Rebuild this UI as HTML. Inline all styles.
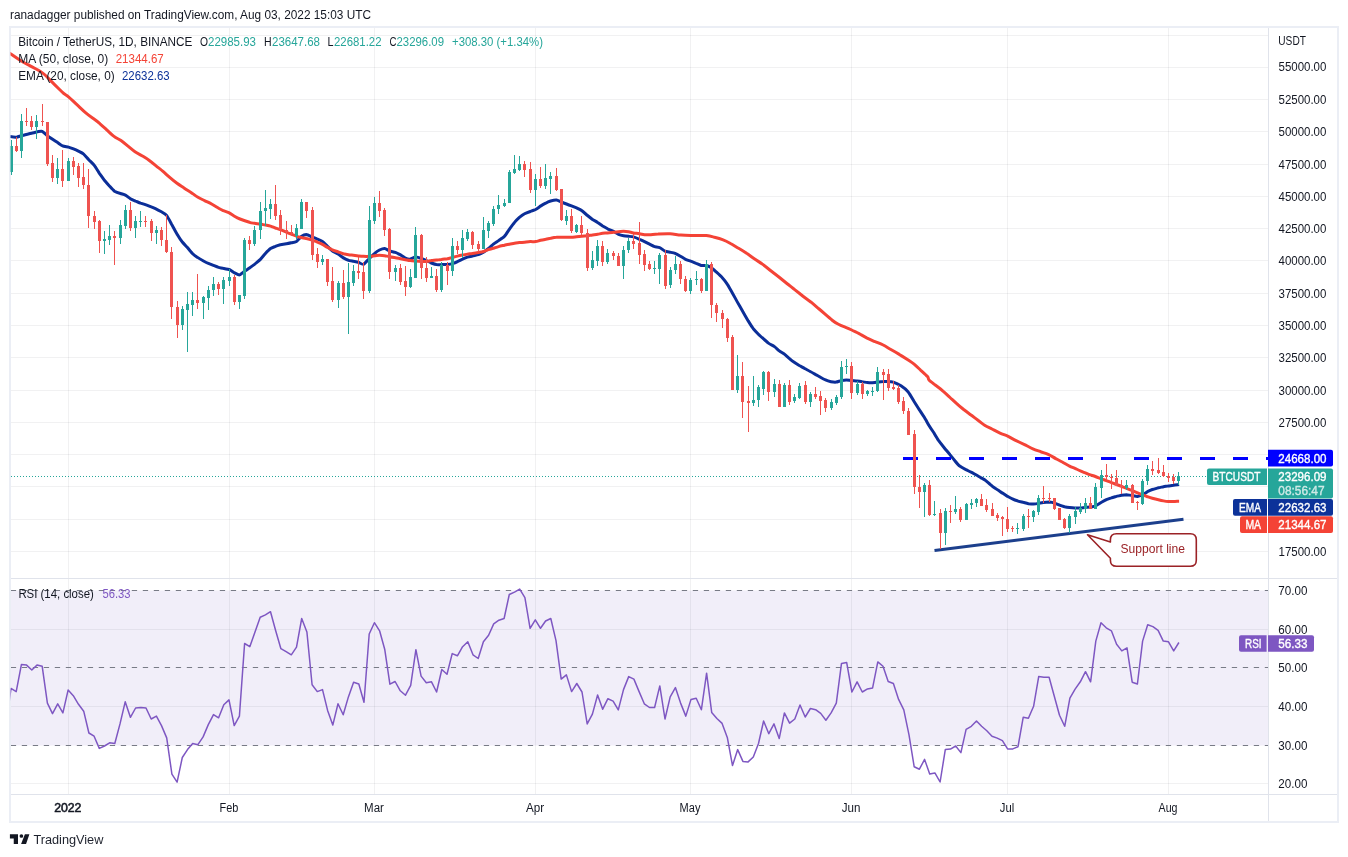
<!DOCTYPE html><html><head><meta charset="utf-8"><title>BTCUSDT chart</title><style>html,body{margin:0;padding:0;background:#fff;}svg{display:block;font-family:"Liberation Sans",sans-serif;will-change:transform;}</style></head><body>
<svg width="1348" height="857" viewBox="0 0 1348 857">
<rect width="1348" height="857" fill="#fff"/>
<defs><clipPath id="cp"><rect x="10.5" y="27.5" width="1257.5" height="551"/></clipPath><clipPath id="cr"><rect x="10.5" y="578.5" width="1257.5" height="216"/></clipPath></defs>
<rect x="11" y="590.5" width="1257" height="155.0" fill="#f1eef9"/>
<path d="M68.5 27.5V794.5M229.5 27.5V794.5M374.5 27.5V794.5M535.5 27.5V794.5M690.5 27.5V794.5M851.5 27.5V794.5M1007.5 27.5V794.5M1168.5 27.5V794.5M10.5 35.5H1268M10.5 67.5H1268M10.5 99.5H1268M10.5 131.5H1268M10.5 164.5H1268M10.5 196.5H1268M10.5 228.5H1268M10.5 260.5H1268M10.5 293.5H1268M10.5 325.5H1268M10.5 357.5H1268M10.5 390.5H1268M10.5 422.5H1268M10.5 454.5H1268M10.5 486.5H1268M10.5 519.5H1268M10.5 551.5H1268M10.5 629.5H1268M10.5 706.5H1268M10.5 783.5H1268" stroke="rgba(42,46,57,0.065)" stroke-width="1" fill="none"/>
<path d="M10.8 590.5H1268" stroke="#787b86" stroke-width="1" stroke-dasharray="5.3 5.7" fill="none"/>
<path d="M10.8 667.5H1268" stroke="#787b86" stroke-width="1" stroke-dasharray="5.3 5.7" fill="none"/>
<path d="M10.8 745.5H1268" stroke="#787b86" stroke-width="1" stroke-dasharray="5.3 5.7" fill="none"/>
<path d="M10 27H1338V822H10Z" stroke="#ebeef5" stroke-width="2" fill="none"/>
<path d="M11 578.5H1337M11 794.5H1337M1268.5 28V821" stroke="#e0e3eb" stroke-width="1" fill="none"/>
<path d="M11 476.5H1268" stroke="#26a69a" stroke-width="1" stroke-dasharray="1 2" fill="none"/>
<g clip-path="url(#cp)">
<path d="M10.0 136.6C10.6 136.7 15.4 137.3 16.5 137.2C17.7 137.1 20.2 136.0 21.7 135.6C23.2 135.2 29.6 133.7 31.6 133.2C33.6 132.8 40.1 131.0 41.7 131.3C43.3 131.5 46.1 134.9 47.7 136.0C49.3 137.2 56.1 141.6 57.6 142.6C59.1 143.6 61.5 145.5 62.6 145.9C63.6 146.4 67.4 146.8 68.5 147.1C69.6 147.4 72.5 148.5 73.5 148.9C74.5 149.3 77.4 150.6 78.4 151.1C79.4 151.6 82.4 153.0 83.4 153.9C84.4 154.7 87.4 158.3 88.5 159.4C89.6 160.6 93.2 164.0 94.3 165.4C95.4 166.8 98.4 171.8 99.4 173.3C100.5 174.8 103.4 179.0 104.4 180.3C105.4 181.5 108.6 185.1 109.6 186.2C110.6 187.3 113.4 190.4 114.5 191.2C115.6 191.9 119.4 193.2 120.5 193.5C121.6 193.9 124.4 194.6 125.4 195.1C126.4 195.6 129.4 198.1 130.4 198.7C131.4 199.3 134.5 200.6 135.5 201.1C136.6 201.5 138.9 202.5 140.5 203.1C142.1 203.6 149.2 206.0 151.3 206.9C153.4 207.7 159.9 211.0 161.4 211.8C163.0 212.7 165.6 214.2 166.6 215.4C167.6 216.6 170.3 221.8 171.3 223.7C172.4 225.6 176.2 232.8 177.3 234.6C178.4 236.5 181.2 240.7 182.3 242.0C183.3 243.3 186.4 246.4 187.4 247.5C188.4 248.7 191.4 252.5 192.4 253.5C193.4 254.5 196.4 256.7 197.5 257.4C198.6 258.2 202.4 260.4 203.5 261.0C204.6 261.6 207.4 263.0 208.4 263.4C209.4 263.8 212.4 265.0 213.4 265.4C214.4 265.8 217.5 267.1 218.6 267.4C219.6 267.7 222.4 268.1 223.5 268.4C224.6 268.6 228.6 269.3 229.7 269.7C230.8 270.2 233.6 272.4 234.6 272.9C235.6 273.4 238.6 275.1 239.6 274.9C240.6 274.7 243.5 272.0 244.5 271.3C245.5 270.6 248.5 268.7 249.5 268.0C250.5 267.3 253.4 265.2 254.5 264.4C255.5 263.5 259.3 260.5 260.4 259.4C261.5 258.3 264.4 254.6 265.4 253.5C266.4 252.4 269.5 249.2 270.5 248.5C271.5 247.8 274.4 246.8 275.4 246.4C276.3 246.0 279.2 245.1 280.3 244.8C281.4 244.6 285.2 244.0 286.3 243.8C287.4 243.6 290.2 243.1 291.2 242.8C292.2 242.6 295.4 242.1 296.4 241.5C297.4 240.8 300.4 237.2 301.3 236.5C302.3 235.8 305.2 234.5 306.3 234.5C307.4 234.6 311.2 236.6 312.3 237.1C313.3 237.5 316.2 238.6 317.2 239.1C318.2 239.5 321.3 240.7 322.4 241.5C323.4 242.2 326.5 245.5 327.5 246.4C328.5 247.4 331.4 250.2 332.5 251.0C333.6 251.8 337.3 253.7 338.4 254.3C339.5 255.0 342.4 257.3 343.4 257.9C344.4 258.5 347.4 260.0 348.4 260.3C349.3 260.6 352.3 261.1 353.3 261.3C354.3 261.5 357.3 262.0 358.3 262.3C359.3 262.6 362.3 264.7 363.4 264.3C364.6 263.9 368.4 259.4 369.6 258.3C370.7 257.2 373.7 254.2 374.7 253.4C375.7 252.5 378.5 250.5 379.5 250.0C380.5 249.5 383.6 248.3 384.7 248.4C385.7 248.5 388.5 250.6 389.6 251.0C390.7 251.4 394.3 252.0 395.4 252.4C396.5 252.8 399.5 254.4 400.5 254.9C401.5 255.5 404.4 257.7 405.4 258.1C406.3 258.5 409.3 259.2 410.3 259.1C411.3 259.0 414.4 257.1 415.5 257.1C416.6 257.0 420.3 258.1 421.4 258.5C422.5 258.8 425.4 260.2 426.4 260.6C427.4 261.1 430.3 262.6 431.3 263.0C432.4 263.4 435.5 264.5 436.5 264.6C437.5 264.8 440.4 264.6 441.5 264.6C442.5 264.6 446.3 264.5 447.4 264.4C448.5 264.3 451.4 263.9 452.4 263.6C453.4 263.3 456.5 262.1 457.5 261.6C458.5 261.2 461.5 259.5 462.5 259.1C463.5 258.6 466.5 257.4 467.4 257.1C468.4 256.8 471.3 256.3 472.4 256.1C473.5 255.8 477.2 255.1 478.4 254.7C479.5 254.3 482.5 252.7 483.5 252.1C484.5 251.5 487.5 249.3 488.5 248.5C489.5 247.8 492.4 245.0 493.4 244.2C494.4 243.4 497.5 241.4 498.6 240.6C499.7 239.8 503.5 237.4 504.5 236.2C505.6 235.1 508.3 230.7 509.3 229.3C510.3 227.9 513.4 223.6 514.5 222.4C515.5 221.2 518.4 218.3 519.4 217.4C520.4 216.6 523.5 214.4 524.6 213.8C525.7 213.2 529.2 211.9 530.3 211.5C531.4 211.0 534.5 210.0 535.6 209.5C536.6 209.0 539.5 206.8 540.5 206.1C541.5 205.5 544.7 203.7 545.7 203.2C546.7 202.6 549.6 201.3 550.6 201.0C551.7 200.7 555.3 199.9 556.4 200.0C557.5 200.1 560.3 201.6 561.3 202.0C562.4 202.4 565.5 203.6 566.5 204.0C567.5 204.4 570.4 205.5 571.5 205.9C572.5 206.3 575.6 207.5 576.6 207.9C577.6 208.4 580.5 209.7 581.6 210.5C582.7 211.3 586.4 214.6 587.5 215.5C588.6 216.4 591.5 218.7 592.5 219.4C593.5 220.1 596.6 221.7 597.6 222.4C598.7 223.1 601.6 225.3 602.6 226.0C603.6 226.6 606.5 228.2 607.6 228.8C608.7 229.3 612.4 230.8 613.5 231.3C614.6 231.9 617.5 233.9 618.5 234.3C619.5 234.7 622.6 235.5 623.6 235.7C624.6 235.9 627.6 236.2 628.6 236.3C629.6 236.4 632.5 236.6 633.5 236.9C634.6 237.2 638.4 238.8 639.5 239.3C640.6 239.7 643.4 241.1 644.5 241.6C645.5 242.1 648.6 243.7 649.6 244.2C650.6 244.7 653.6 246.3 654.6 246.6C655.6 246.9 658.7 247.1 659.7 247.6C660.8 248.0 663.9 250.6 664.9 251.1C665.9 251.6 669.0 252.0 670.0 252.2C671.0 252.4 674.0 252.9 675.1 253.3C676.1 253.7 679.4 255.6 680.4 256.2C681.4 256.8 684.5 258.8 685.5 259.3C686.5 259.8 689.5 260.7 690.6 261.1C691.7 261.5 695.1 262.9 696.1 263.3C697.2 263.7 700.2 265.3 701.2 265.5C702.3 265.7 705.3 265.3 706.3 265.5C707.4 265.7 710.4 267.1 711.4 267.7C712.5 268.4 715.4 271.2 716.5 272.2C717.6 273.2 721.2 276.5 722.3 277.7C723.4 278.9 726.4 282.8 727.4 284.4C728.4 285.9 731.5 291.5 732.5 293.2C733.5 295.0 736.4 300.3 737.4 302.1C738.4 303.9 741.4 309.1 742.5 311.0C743.6 312.9 747.2 319.2 748.2 320.9C749.3 322.7 752.3 327.4 753.3 328.7C754.4 330.0 757.4 333.2 758.4 334.2C759.4 335.2 762.3 337.8 763.3 338.7C764.3 339.6 767.3 342.3 768.4 343.1C769.5 343.9 773.1 345.7 774.2 346.4C775.3 347.2 778.3 350.1 779.3 350.9C780.3 351.7 783.4 353.4 784.4 354.2C785.4 355.0 788.5 357.8 789.5 358.6C790.5 359.5 793.6 361.9 794.6 362.6C795.6 363.3 798.3 364.9 799.3 365.5C800.4 366.1 804.0 368.2 805.1 368.8C806.2 369.4 809.2 370.9 810.2 371.5C811.2 372.0 814.3 373.8 815.3 374.4C816.3 374.9 819.4 376.7 820.4 377.2C821.4 377.8 824.4 379.5 825.5 379.9C826.5 380.4 830.0 381.5 831.0 381.7C832.1 381.9 835.1 382.2 836.1 382.1C837.1 382.0 840.2 380.8 841.2 380.6C842.2 380.4 845.3 379.9 846.3 379.9C847.3 379.9 850.3 380.5 851.4 380.6C852.5 380.7 855.9 380.9 857.0 381.0C858.0 381.1 861.0 381.5 862.1 381.7C863.1 381.8 866.1 382.5 867.2 382.6C868.2 382.7 871.2 382.8 872.3 382.8C873.3 382.7 876.3 382.3 877.4 382.1C878.4 382.0 882.0 381.5 883.1 381.5C884.2 381.4 887.2 381.4 888.2 381.5C889.2 381.5 892.0 381.7 893.3 382.1C894.6 382.6 899.5 384.9 901.0 385.8C902.5 386.8 906.7 390.2 908.0 391.7C909.3 393.2 912.7 399.1 913.8 401.0C915.0 402.9 918.6 408.7 919.7 410.3C920.7 412.0 923.4 415.8 924.3 417.3C925.3 418.9 928.1 424.0 929.0 425.5C929.9 427.0 932.7 431.1 933.7 432.5C934.6 434.0 937.3 438.6 938.3 440.1C939.4 441.6 943.0 446.2 944.2 447.7C945.3 449.1 949.0 453.4 950.0 454.7C951.1 456.0 953.7 459.4 954.7 460.5C955.6 461.6 958.2 464.8 959.3 465.8C960.5 466.7 964.9 469.1 966.3 469.8C967.7 470.6 971.9 472.6 973.3 473.3C974.7 474.1 979.2 476.8 980.4 477.4C981.5 478.1 983.8 479.1 985.0 480.0C986.2 480.9 991.1 485.4 992.4 486.3C993.6 487.3 996.5 489.0 997.5 489.7C998.5 490.3 1001.5 492.5 1002.5 493.1C1003.5 493.8 1006.4 495.8 1007.4 496.3C1008.4 496.9 1011.4 498.5 1012.4 498.9C1013.4 499.4 1016.3 500.5 1017.4 500.8C1018.5 501.2 1022.4 502.1 1023.5 502.4C1024.6 502.7 1027.5 503.5 1028.5 503.7C1029.5 503.8 1032.6 504.1 1033.6 504.0C1034.6 504.0 1037.5 503.6 1038.5 503.4C1039.5 503.2 1042.4 502.6 1043.5 502.5C1044.6 502.4 1048.3 502.1 1049.4 502.1C1050.5 502.2 1053.5 502.8 1054.5 503.1C1055.5 503.4 1058.5 504.7 1059.5 505.1C1060.5 505.5 1063.5 506.5 1064.5 506.8C1065.5 507.0 1068.4 507.4 1069.5 507.5C1070.6 507.6 1074.3 507.8 1075.4 507.9C1076.5 507.9 1079.4 507.9 1080.4 507.9C1081.4 507.8 1084.4 507.6 1085.4 507.5C1086.4 507.5 1089.4 507.2 1090.4 507.1C1091.4 506.9 1094.3 506.5 1095.4 506.0C1096.5 505.5 1100.4 502.9 1101.5 502.3C1102.6 501.7 1105.4 500.2 1106.4 499.7C1107.4 499.3 1110.4 498.2 1111.4 497.9C1112.4 497.5 1115.4 496.7 1116.4 496.4C1117.4 496.2 1120.4 495.5 1121.4 495.3C1122.5 495.1 1125.5 494.7 1126.6 494.7C1127.7 494.8 1131.2 495.5 1132.4 495.6C1133.5 495.8 1136.6 496.5 1137.6 496.4C1138.6 496.3 1141.5 495.3 1142.5 494.9C1143.5 494.4 1146.4 492.3 1147.4 491.7C1148.4 491.2 1151.2 489.9 1152.3 489.5C1153.4 489.1 1157.3 488.1 1158.4 487.8C1159.5 487.6 1162.5 486.9 1163.5 486.7C1164.5 486.5 1167.3 486.1 1168.3 485.9C1169.3 485.8 1172.4 485.4 1173.5 485.3C1174.6 485.1 1178.5 484.6 1179.1 484.5" stroke="#0b2e98" stroke-width="3" fill="none" stroke-linejoin="round" stroke-linecap="butt"/>
<path d="M3.0 49.0C4.2 49.8 7.7 52.0 10.4 53.7C13.1 55.5 16.1 57.7 19.3 59.7C22.5 61.7 26.2 63.7 29.7 65.6C33.1 67.5 37.6 69.8 40.1 71.2C42.5 72.7 42.5 72.7 44.5 74.5C46.5 76.3 49.5 79.5 51.9 81.9C54.4 84.4 57.4 87.4 59.3 89.3C61.3 91.3 62.3 92.3 63.8 93.5C65.3 94.7 66.3 94.9 68.5 96.8C70.8 98.7 74.2 102.2 77.2 104.9C80.1 107.6 83.1 110.6 86.1 113.1C89.0 115.6 92.6 118.0 95.0 119.8C97.3 121.5 98.0 122.1 100.0 123.8C102.0 125.5 104.7 128.0 107.0 130.1C109.3 132.2 111.7 134.7 114.0 136.4C116.3 138.2 118.7 139.0 121.0 140.6C123.3 142.2 125.7 144.3 128.0 146.2C130.3 148.1 132.7 150.2 135.0 151.8C137.3 153.4 139.7 154.3 142.0 155.7C144.3 157.1 146.7 158.5 149.0 160.2C151.3 161.9 153.7 163.9 156.0 165.8C158.3 167.7 160.7 169.4 163.0 171.4C165.3 173.4 167.7 175.7 170.0 177.7C172.3 179.7 174.7 181.6 177.0 183.3C179.3 185.0 181.7 186.4 184.0 187.9C186.3 189.5 188.7 190.9 191.0 192.4C193.3 194.0 195.7 195.9 198.0 197.3C200.3 198.7 202.7 199.6 205.0 200.8C207.4 202.0 209.7 203.0 212.0 204.3C214.4 205.6 217.2 207.5 219.0 208.5C220.9 209.6 221.6 209.9 223.2 210.6C224.9 211.3 227.0 211.8 228.8 212.7C230.7 213.7 232.6 215.2 234.4 216.2C236.3 217.3 237.5 218.0 240.0 219.0C242.5 220.0 247.1 221.6 249.5 222.3C251.9 223.1 252.6 223.0 254.5 223.3C256.3 223.6 258.6 223.8 260.4 224.1C262.2 224.4 263.7 224.8 265.4 225.1C267.1 225.4 268.9 225.6 270.5 226.1C272.2 226.6 273.7 227.4 275.4 228.0C277.0 228.5 278.5 228.9 280.3 229.6C282.1 230.2 284.4 231.4 286.3 232.1C288.1 232.9 289.5 233.5 291.2 234.1C292.9 234.8 294.7 235.5 296.4 236.1C298.1 236.7 299.7 237.1 301.3 237.5C303.0 237.9 304.5 238.0 306.3 238.5C308.1 238.9 310.4 239.5 312.3 240.1C314.1 240.7 315.5 241.3 317.2 242.0C318.9 242.8 320.6 243.5 322.4 244.4C324.1 245.3 325.8 246.5 327.5 247.4C329.2 248.3 330.7 249.2 332.5 250.0C334.3 250.7 336.6 251.3 338.4 252.0C340.3 252.6 341.7 253.3 343.4 253.8C345.0 254.2 346.7 254.5 348.4 254.7C350.0 255.0 351.7 255.1 353.3 255.3C355.0 255.5 356.6 255.8 358.3 255.9C360.0 256.1 361.5 256.3 363.4 256.3C365.3 256.4 367.7 256.4 369.6 256.3C371.5 256.2 373.1 255.9 374.7 255.7C376.4 255.6 377.8 255.3 379.5 255.3C381.2 255.3 383.0 255.5 384.7 255.7C386.3 256.0 387.8 256.4 389.6 256.7C391.4 257.1 393.5 257.4 395.4 257.7C397.2 258.0 398.9 258.4 400.5 258.7C402.2 259.0 403.7 259.3 405.4 259.7C407.0 260.0 408.6 260.4 410.3 260.6C412.0 260.9 413.6 260.9 415.5 261.0C417.3 261.2 419.6 261.4 421.4 261.4C423.2 261.5 424.7 261.6 426.4 261.4C428.0 261.3 429.7 260.9 431.3 260.6C433.0 260.4 434.8 260.3 436.5 260.1C438.2 259.9 439.6 259.7 441.5 259.5C443.3 259.2 445.6 259.0 447.4 258.7C449.2 258.3 450.7 257.9 452.4 257.5C454.1 257.0 455.8 256.5 457.5 256.1C459.2 255.7 460.8 255.4 462.5 255.1C464.1 254.8 465.8 254.4 467.4 254.1C469.1 253.8 470.6 253.8 472.4 253.5C474.2 253.2 476.5 252.8 478.4 252.5C480.2 252.2 481.8 252.0 483.5 251.5C485.2 251.0 486.8 250.1 488.5 249.5C490.1 249.0 491.7 248.6 493.4 248.2C495.1 247.7 496.7 247.1 498.6 246.6C500.4 246.1 502.8 245.6 504.5 245.2C506.3 244.8 507.6 244.5 509.3 244.2C511.0 243.9 512.8 243.5 514.5 243.2C516.1 242.9 517.7 242.8 519.4 242.6C521.1 242.4 522.8 242.4 524.6 242.2C526.4 242.0 528.5 241.7 530.3 241.6C532.2 241.5 533.9 241.9 535.6 241.6C537.3 241.4 538.8 240.7 540.5 240.3C542.2 239.9 544.0 239.6 545.7 239.3C547.4 238.9 548.8 238.6 550.6 238.3C552.4 237.9 554.6 237.4 556.4 237.3C558.2 237.1 559.7 237.3 561.3 237.3C563.0 237.3 564.8 237.3 566.5 237.3C568.2 237.3 569.8 237.4 571.5 237.3C573.1 237.2 574.9 236.9 576.6 236.7C578.3 236.5 579.8 236.5 581.6 236.3C583.4 236.1 585.7 235.9 587.5 235.7C589.3 235.5 590.8 235.1 592.5 234.9C594.2 234.7 596.0 234.6 597.6 234.3C599.3 234.0 600.9 233.5 602.6 233.3C604.3 233.1 605.7 233.1 607.6 232.9C609.4 232.8 611.7 232.5 613.5 232.3C615.3 232.1 616.8 231.9 618.5 231.7C620.2 231.6 621.9 231.3 623.6 231.3C625.3 231.3 626.9 231.5 628.6 231.7C630.2 232.0 631.7 232.6 633.5 232.9C635.4 233.2 637.7 233.4 639.5 233.7C641.3 234.0 642.8 234.5 644.5 234.7C646.1 234.9 647.3 234.8 649.6 234.7C651.9 234.6 654.6 234.2 658.1 234.1C661.5 233.9 666.3 233.6 670.1 233.8C673.9 234.0 677.4 234.9 680.9 235.1C684.3 235.4 687.6 235.4 690.9 235.4C694.3 235.4 698.4 235.4 701.0 235.4C703.6 235.4 704.4 235.3 706.4 235.5C708.4 235.8 710.4 236.2 713.1 236.9C715.8 237.6 719.6 238.5 722.5 239.6C725.4 240.7 727.9 242.0 730.5 243.5C733.2 244.9 735.9 246.7 738.6 248.3C741.3 249.9 744.0 251.5 746.6 253.3C749.3 255.0 752.0 257.2 754.7 259.0C757.4 260.9 760.1 262.4 762.8 264.4C765.4 266.3 768.1 268.6 770.8 270.7C773.5 272.8 776.2 274.9 778.9 277.0C781.5 279.1 784.2 281.3 786.9 283.5C789.6 285.6 792.3 287.8 795.0 289.9C797.7 292.0 800.3 294.1 803.0 296.2C805.7 298.3 808.4 300.1 811.1 302.2C813.8 304.4 815.6 306.0 819.1 309.0C822.7 312.0 828.9 317.6 832.2 320.2C835.5 322.8 836.7 323.3 838.9 324.5C841.2 325.7 843.5 326.4 845.6 327.3C847.8 328.2 849.4 328.9 851.7 330.0C853.9 331.1 856.5 332.3 859.1 333.6C861.6 335.0 864.4 336.7 867.1 338.1C869.8 339.4 872.5 340.5 875.2 341.7C877.9 342.8 880.5 343.7 883.2 345.0C885.9 346.4 888.6 348.2 891.3 349.7C894.0 351.3 896.6 352.8 899.3 354.4C902.0 356.1 904.9 357.9 907.4 359.5C909.8 361.1 911.9 362.3 914.1 364.1C916.3 365.9 918.6 368.2 920.8 370.3C923.0 372.3 926.1 375.0 927.5 376.6C928.9 378.2 927.8 378.7 929.0 380.0C930.2 381.3 932.5 382.8 934.8 384.7C937.2 386.5 940.5 388.9 943.0 391.1C945.5 393.2 947.7 395.4 950.0 397.5C952.3 399.6 954.7 401.9 957.0 403.9C959.3 406.0 961.7 407.9 964.0 409.8C966.3 411.6 968.7 413.3 971.0 415.0C973.3 416.8 975.7 418.5 978.0 420.3C980.4 422.0 982.7 424.0 985.0 425.5C987.4 427.0 989.5 427.7 992.0 429.0C994.5 430.3 997.3 431.9 1000.0 433.1C1002.6 434.3 1005.0 435.0 1007.7 436.2C1010.4 437.5 1013.3 439.2 1016.1 440.6C1018.9 442.0 1021.7 443.3 1024.5 444.6C1027.3 446.0 1030.1 447.6 1032.9 448.8C1035.7 450.0 1038.7 451.0 1041.3 452.0C1044.0 452.9 1046.2 453.5 1048.7 454.6C1051.1 455.7 1053.6 457.5 1056.1 458.8C1058.5 460.2 1061.2 461.5 1063.4 462.7C1065.6 463.9 1067.5 465.2 1069.5 466.1C1071.5 467.1 1073.6 467.8 1075.4 468.6C1077.2 469.4 1078.7 470.1 1080.4 470.8C1082.1 471.5 1083.7 472.2 1085.4 472.8C1087.1 473.5 1088.7 474.2 1090.4 474.8C1092.1 475.4 1093.6 475.8 1095.4 476.5C1097.3 477.2 1099.7 478.3 1101.5 478.9C1103.4 479.6 1104.8 480.0 1106.4 480.6C1108.1 481.2 1109.8 482.0 1111.4 482.6C1113.1 483.3 1114.8 483.9 1116.4 484.5C1118.1 485.1 1119.8 485.7 1121.4 486.4C1123.1 487.0 1124.7 487.7 1126.6 488.4C1128.4 489.1 1130.5 489.9 1132.4 490.6C1134.2 491.4 1135.9 492.1 1137.6 492.8C1139.3 493.6 1140.8 494.2 1142.5 494.9C1144.1 495.5 1145.7 496.2 1147.4 496.7C1149.0 497.3 1150.4 497.7 1152.3 498.2C1154.1 498.7 1156.5 499.3 1158.4 499.7C1160.3 500.2 1161.9 500.6 1163.5 500.9C1165.2 501.2 1166.6 501.4 1168.3 501.5C1170.0 501.6 1171.7 501.6 1173.5 501.5C1175.3 501.5 1178.2 501.2 1179.1 501.2" stroke="#f44336" stroke-width="3" fill="none" stroke-linejoin="round" stroke-linecap="butt"/>
<path d="M903 458.5H1268" stroke="#0000ff" stroke-width="3" stroke-dasharray="15 18" fill="none"/>
<path d="M934.5 550.6L1183.5 519.3" stroke="#1c3f8c" stroke-width="3" fill="none"/>
<path d="M11.5 140V175M21.5 114V158M36.5 115V139M57.5 158V184M68.5 158V181M104.5 231V254M109.5 225V245M120.5 220V244M125.5 205V229M135.5 216V238M140.5 211V227M156.5 226V244M182.5 306V330M187.5 292V352M192.5 292V316M203.5 296V319M208.5 286V310M213.5 277V296M223.5 277V304M229.5 269V286M239.5 295V309M244.5 238V299M254.5 226V246M260.5 202V239M265.5 190V226M270.5 199V219M296.5 224V239M301.5 199V229M322.5 255V265M338.5 281V308M348.5 263V334M353.5 265V286M369.5 206V293M374.5 197V224M395.5 265V281M410.5 269V288M415.5 227V278M431.5 267V278M441.5 262V292M452.5 238V276M462.5 230V258M467.5 229V241M483.5 217V249M488.5 221V238M493.5 206V226M498.5 195V214M504.5 199V207M509.5 170V203M514.5 155V174M519.5 156V171M535.5 174V206M545.5 164V189M550.5 172V194M566.5 210V225M576.5 224V233M592.5 251V270M597.5 240V266M607.5 249V264M623.5 246V279M628.5 238V253M654.5 261V274M659.5 253V284M670.5 267V288M675.5 256V274M690.5 278V294M696.5 271V285M706.5 260V291M737.5 355V393M753.5 376V406M758.5 385V407M763.5 371V395M774.5 379V397M784.5 383V407M794.5 394V403M799.5 383V399M810.5 392V407M831.5 399V410M836.5 395V405M841.5 361V399M846.5 359V374M857.5 381V395M867.5 390V396M872.5 387V396M877.5 367V392M924.5 483V517M934.5 501V516M945.5 508V545M955.5 496V514M966.5 503V520M971.5 499V509M976.5 498V507M1017.5 523V534M1023.5 514V531M1033.5 510V522M1038.5 495V515M1069.5 514V533M1075.5 507V524M1080.5 503V514M1085.5 498V513M1095.5 483V509M1101.5 470V498M1126.5 480V490M1142.5 479V505M1147.5 465V485M1178.5 472V485" stroke="#26a69a" stroke-width="1" fill="none"/>
<path d="M16.5 137V152M26.5 108V126M31.5 116V130M42.5 104V126M47.5 122V166M52.5 155V182M62.5 150V187M73.5 157V175M78.5 163V187M83.5 163V189M88.5 169V228M94.5 211V229M99.5 220V253M114.5 231V265M130.5 202V231M145.5 216V227M151.5 219V241M161.5 227V246M166.5 215V253M171.5 247V319M177.5 301V338M197.5 274V309M218.5 282V295M234.5 275V305M249.5 236V250M275.5 185V220M280.5 210V235M286.5 221V239M291.5 225V236M306.5 202V218M312.5 207V260M317.5 248V268M327.5 259V286M332.5 267V302M343.5 270V299M358.5 257V279M363.5 262V299M379.5 191V217M384.5 208V236M389.5 228V279M400.5 264V285M405.5 266V296M421.5 234V279M426.5 257V282M436.5 269V292M447.5 262V285M457.5 241V254M472.5 231V249M478.5 241V252M524.5 161V177M530.5 162V193M540.5 167V188M556.5 168V191M561.5 189V221M571.5 209V233M581.5 216V235M587.5 229V271M602.5 241V266M613.5 251V260M618.5 253V266M633.5 234V249M639.5 222V264M644.5 250V271M649.5 261V270M665.5 250V289M680.5 261V284M685.5 276V292M701.5 278V293M711.5 262V318M716.5 303V322M722.5 310V328M727.5 318V342M732.5 335V390M742.5 362V418M748.5 386V432M768.5 371V401M779.5 380V407M789.5 380V405M805.5 381V404M815.5 387V399M820.5 391V415M825.5 398V412M851.5 362V399M862.5 382V399M883.5 369V400M888.5 369V391M893.5 381V390M898.5 385V404M903.5 397V414M908.5 408V435M914.5 430V494M919.5 475V508M929.5 480V516M940.5 509V549M950.5 505V523M960.5 507V522M981.5 494V506M986.5 499V512M992.5 503V516M997.5 513V521M1002.5 516V536M1007.5 507V532M1012.5 526V532M1028.5 509V528M1043.5 486V503M1049.5 493V502M1054.5 498V510M1059.5 508V520M1064.5 518V529M1090.5 497V509M1106.5 464V480M1111.5 474V489M1116.5 470V486M1121.5 480V494M1132.5 484V503M1137.5 501V510M1152.5 461V475M1158.5 458V474M1163.5 465V477M1168.5 473V482M1173.5 474V484" stroke="#ef5350" stroke-width="1" fill="none"/>
<path d="M10.0 146h3v26h-3zM20.0 121h3v30h-3zM35.0 121h3v6h-3zM56.0 169h3v9h-3zM67.0 161h3v20h-3zM103.0 239h3v2h-3zM108.0 236h3v4h-3zM119.0 225h3v13h-3zM124.0 210h3v16h-3zM134.0 221h3v7h-3zM139.0 221h3v1h-3zM155.0 230h3v3h-3zM181.0 309h3v16h-3zM186.0 304h3v6h-3zM191.0 300h3v5h-3zM202.0 297h3v6h-3zM207.0 290h3v8h-3zM212.0 284h3v6h-3zM222.0 280h3v9h-3zM228.0 277h3v4h-3zM238.0 295h3v7h-3zM243.0 240h3v56h-3zM253.0 230h3v14h-3zM259.0 211h3v19h-3zM264.0 208h3v3h-3zM269.0 204h3v5h-3zM295.0 228h3v8h-3zM300.0 202h3v27h-3zM321.0 259h3v3h-3zM337.0 283h3v17h-3zM347.0 282h3v15h-3zM352.0 271h3v12h-3zM368.0 220h3v71h-3zM373.0 203h3v18h-3zM394.0 268h3v4h-3zM409.0 277h3v10h-3zM414.0 235h3v43h-3zM430.0 276h3v2h-3zM440.0 265h3v25h-3zM451.0 246h3v25h-3zM461.0 238h3v12h-3zM466.0 232h3v7h-3zM482.0 230h3v19h-3zM487.0 223h3v8h-3zM492.0 209h3v15h-3zM497.0 205h3v4h-3zM503.0 203h3v3h-3zM508.0 172h3v31h-3zM513.0 169h3v4h-3zM518.0 164h3v6h-3zM534.0 179h3v11h-3zM544.0 178h3v8h-3zM549.0 176h3v3h-3zM565.0 216h3v5h-3zM575.0 225h3v7h-3zM591.0 260h3v8h-3zM596.0 246h3v15h-3zM606.0 253h3v9h-3zM622.0 250h3v16h-3zM627.0 241h3v9h-3zM653.0 268h3v1h-3zM658.0 255h3v14h-3zM669.0 270h3v15h-3zM674.0 264h3v6h-3zM689.0 280h3v11h-3zM695.0 279h3v1h-3zM705.0 264h3v27h-3zM736.0 376h3v14h-3zM752.0 400h3v3h-3zM757.0 387h3v13h-3zM762.0 372h3v17h-3zM773.0 384h3v8h-3zM783.0 385h3v22h-3zM793.0 397h3v4h-3zM798.0 386h3v12h-3zM809.0 394h3v8h-3zM830.0 402h3v6h-3zM835.0 397h3v6h-3zM840.0 367h3v30h-3zM845.0 366h3v1h-3zM856.0 384h3v9h-3zM866.0 391h3v3h-3zM871.0 391h3v1h-3zM876.0 372h3v19h-3zM923.0 485h3v7h-3zM933.0 514h3v1h-3zM944.0 511h3v22h-3zM954.0 509h3v3h-3zM965.0 504h3v16h-3zM970.0 503h3v2h-3zM975.0 499h3v4h-3zM1016.0 528h3v1h-3zM1022.0 516h3v13h-3zM1032.0 511h3v6h-3zM1037.0 498h3v14h-3zM1068.0 516h3v12h-3zM1074.0 511h3v6h-3zM1079.0 508h3v4h-3zM1084.0 503h3v6h-3zM1094.0 487h3v22h-3zM1100.0 475h3v13h-3zM1125.0 485h3v3h-3zM1141.0 481h3v23h-3zM1146.0 469h3v12h-3zM1177.0 476h3v5h-3z" fill="#26a69a"/>
<path d="M15.0 146h3v5h-3zM25.0 121h3v1h-3zM30.0 121h3v6h-3zM41.0 121h3v1h-3zM46.0 122h3v42h-3zM51.0 163h3v15h-3zM61.0 169h3v12h-3zM72.0 161h3v6h-3zM77.0 166h3v12h-3zM82.0 177h3v8h-3zM87.0 185h3v31h-3zM93.0 216h3v6h-3zM98.0 221h3v20h-3zM113.0 236h3v2h-3zM129.0 210h3v18h-3zM144.0 221h3v1h-3zM150.0 221h3v12h-3zM160.0 230h3v10h-3zM165.0 240h3v12h-3zM170.0 252h3v55h-3zM176.0 307h3v18h-3zM196.0 300h3v3h-3zM217.0 284h3v5h-3zM233.0 277h3v25h-3zM248.0 240h3v4h-3zM274.0 204h3v12h-3zM279.0 215h3v15h-3zM285.0 230h3v2h-3zM290.0 232h3v1h-3zM305.0 202h3v9h-3zM311.0 210h3v45h-3zM316.0 254h3v8h-3zM326.0 259h3v23h-3zM331.0 281h3v19h-3zM342.0 283h3v14h-3zM357.0 271h3v2h-3zM362.0 272h3v19h-3zM378.0 203h3v8h-3zM383.0 210h3v20h-3zM388.0 229h3v43h-3zM399.0 268h3v14h-3zM404.0 281h3v6h-3zM420.0 235h3v33h-3zM425.0 268h3v10h-3zM435.0 276h3v14h-3zM446.0 265h3v6h-3zM456.0 246h3v4h-3zM471.0 232h3v13h-3zM477.0 244h3v5h-3zM523.0 164h3v6h-3zM529.0 169h3v21h-3zM539.0 179h3v7h-3zM555.0 176h3v14h-3zM560.0 189h3v31h-3zM570.0 216h3v15h-3zM580.0 225h3v8h-3zM586.0 233h3v35h-3zM601.0 246h3v16h-3zM612.0 253h3v3h-3zM617.0 256h3v10h-3zM632.0 241h3v3h-3zM638.0 243h3v12h-3zM643.0 254h3v11h-3zM648.0 264h3v5h-3zM664.0 255h3v31h-3zM679.0 264h3v15h-3zM684.0 279h3v12h-3zM700.0 279h3v12h-3zM710.0 264h3v41h-3zM715.0 305h3v8h-3zM721.0 313h3v6h-3zM726.0 319h3v19h-3zM731.0 337h3v53h-3zM741.0 376h3v26h-3zM747.0 401h3v2h-3zM767.0 372h3v20h-3zM778.0 384h3v23h-3zM788.0 385h3v17h-3zM804.0 385h3v17h-3zM814.0 394h3v3h-3zM819.0 396h3v5h-3zM824.0 400h3v8h-3zM850.0 366h3v27h-3zM861.0 384h3v10h-3zM882.0 372h3v3h-3zM887.0 374h3v14h-3zM892.0 387h3v2h-3zM897.0 388h3v14h-3zM902.0 401h3v10h-3zM907.0 411h3v24h-3zM913.0 434h3v53h-3zM918.0 487h3v5h-3zM928.0 485h3v30h-3zM939.0 513h3v20h-3zM949.0 511h3v1h-3zM959.0 509h3v11h-3zM980.0 499h3v7h-3zM985.0 505h3v5h-3zM991.0 509h3v7h-3zM996.0 515h3v3h-3zM1001.0 517h3v2h-3zM1006.0 519h3v10h-3zM1011.0 528h3v1h-3zM1027.0 516h3v1h-3zM1042.0 498h3v1h-3zM1048.0 498h3v1h-3zM1053.0 498h3v11h-3zM1058.0 508h3v12h-3zM1063.0 519h3v9h-3zM1089.0 503h3v6h-3zM1105.0 475h3v2h-3zM1110.0 477h3v1h-3zM1115.0 478h3v7h-3zM1120.0 485h3v2h-3zM1131.0 485h3v18h-3zM1136.0 502h3v1h-3zM1151.0 469h3v2h-3zM1157.0 470h3v3h-3zM1162.0 472h3v4h-3zM1167.0 476h3v2h-3zM1172.0 477h3v4h-3z" fill="#ef5350"/>
<path d="M1087.5 534.8L1110.4 542V539.8Q1110.4 533.8 1116.4 533.8H1190.3Q1196.3 533.8 1196.3 539.8V560.2Q1196.3 566.2 1190.3 566.2H1116.4Q1110.4 566.2 1110.4 560.2V558.2Z" fill="#fff" stroke="#9b2226" stroke-width="1.6" stroke-linejoin="round"/>
<text x="1120.5" y="552.6" font-size="12" fill="#9b2226" textLength="64.5" lengthAdjust="spacingAndGlyphs">Support line</text>
</g>
<g clip-path="url(#cr)"><path d="M5.8 726.8L11.0 688.4L16.2 691.6L21.4 664.6L26.6 665.1L31.8 670.0L37.0 665.1L42.2 666.3L47.4 703.1L52.5 713.6L57.7 703.8L62.9 712.9L68.1 690.1L73.3 695.7L78.5 704.3L83.7 711.2L88.9 733.0L94.1 736.2L99.3 748.4L104.5 746.0L109.6 742.8L114.8 743.5L120.0 723.9L125.2 701.8L130.4 717.3L135.6 708.0L140.8 707.5L146.0 708.0L151.2 719.0L156.4 716.1L161.5 725.6L166.7 737.9L171.9 774.1L177.1 782.2L182.3 757.5L187.5 749.6L192.7 743.5L197.9 744.7L203.1 736.9L208.3 724.6L213.5 714.6L218.6 717.8L223.8 704.8L229.0 699.9L234.2 725.6L239.4 716.1L244.6 643.5L249.8 646.7L255.0 632.0L260.2 617.3L265.4 614.9L270.5 611.7L275.7 630.8L280.9 648.7L286.1 651.6L291.3 654.8L296.5 647.2L301.7 618.5L306.9 632.0L312.1 684.7L317.3 691.6L322.5 689.6L327.6 710.4L332.8 725.1L338.0 703.8L343.2 714.8L348.4 696.9L353.6 682.2L358.8 684.0L364.0 702.3L369.2 634.0L374.4 622.7L379.6 630.8L384.7 649.2L389.9 684.2L395.1 681.5L400.3 690.8L405.5 695.2L410.7 685.4L415.9 649.7L421.1 676.1L426.3 682.7L431.5 681.8L436.6 692.0L441.8 669.5L447.0 674.2L452.2 653.6L457.4 655.8L462.6 646.7L467.8 641.8L473.0 654.8L478.2 658.5L483.4 641.8L488.6 635.2L493.7 623.9L498.9 620.2L504.1 618.5L509.3 594.5L514.5 592.1L519.7 589.1L524.9 597.7L530.1 628.3L535.3 619.8L540.5 628.3L545.6 621.0L550.8 618.5L556.0 640.6L561.2 679.1L566.4 674.9L571.6 691.6L576.8 683.5L582.0 692.0L587.2 723.9L592.4 714.1L597.6 695.0L602.7 709.2L607.9 698.7L613.1 701.1L618.3 709.9L623.5 689.6L628.7 676.6L633.9 679.1L639.1 691.6L644.3 703.8L649.5 707.5L654.6 707.5L659.8 685.9L665.0 719.0L670.2 696.9L675.4 687.6L680.6 703.1L685.8 716.1L691.0 699.4L696.2 698.2L701.4 709.7L706.6 673.2L711.7 712.4L716.9 718.5L722.1 723.4L727.3 737.4L732.5 765.6L737.7 749.6L742.9 761.4L748.1 761.9L753.3 757.0L758.5 743.5L763.6 721.0L768.8 733.7L774.0 723.9L779.2 738.6L784.4 712.9L789.6 723.2L794.8 719.0L800.0 705.0L805.2 717.0L810.4 708.5L815.6 709.7L820.7 713.4L825.9 720.2L831.1 712.9L836.3 703.1L841.5 663.4L846.7 662.6L851.9 692.0L857.1 681.8L862.3 692.0L867.5 688.9L872.6 687.9L877.8 661.9L883.0 666.3L888.2 681.5L893.4 683.5L898.6 699.4L903.8 709.9L909.0 734.9L914.2 766.8L919.4 769.2L924.6 759.4L929.7 774.1L934.9 772.9L940.1 782.0L945.3 749.6L950.5 749.1L955.7 746.0L960.9 752.6L966.1 729.3L971.3 726.3L976.5 721.0L981.6 726.3L986.8 730.8L992.0 736.2L997.2 738.1L1002.4 740.6L1007.6 748.9L1012.8 748.9L1018.0 746.7L1023.2 717.3L1028.4 718.3L1033.6 706.3L1038.7 676.6L1043.9 677.3L1049.1 677.3L1054.3 696.2L1059.5 715.3L1064.7 726.3L1069.9 698.2L1075.1 689.1L1080.3 681.8L1085.5 671.7L1090.6 681.8L1095.8 641.1L1101.0 622.7L1106.2 627.8L1111.4 630.8L1116.6 644.3L1121.8 650.9L1127.0 647.9L1132.2 682.2L1137.4 684.0L1142.6 641.1L1147.7 624.7L1152.9 626.6L1158.1 630.3L1163.3 641.1L1168.5 641.8L1173.7 650.9L1178.9 642.5" stroke="#7e57c2" stroke-width="1.5" fill="none" stroke-linejoin="round"/></g>
<text x="10.0" y="19.2" font-size="12" fill="#131722" textLength="361.0" lengthAdjust="spacingAndGlyphs">ranadagger published on TradingView.com, Aug 03, 2022 15:03 UTC</text>
<text x="18.2" y="46.0" font-size="12" fill="#131722" textLength="174.2" lengthAdjust="spacingAndGlyphs">Bitcoin / TetherUS, 1D, BINANCE</text>
<text x="200.0" y="46.0" font-size="12" fill="#131722" textLength="8.0" lengthAdjust="spacingAndGlyphs">O</text>
<text x="208.0" y="46.0" font-size="12" fill="#26a69a" textLength="48.0" lengthAdjust="spacingAndGlyphs">22985.93</text>
<text x="264.0" y="46.0" font-size="12" fill="#131722" textLength="7.6" lengthAdjust="spacingAndGlyphs">H</text>
<text x="272.0" y="46.0" font-size="12" fill="#26a69a" textLength="48.0" lengthAdjust="spacingAndGlyphs">23647.68</text>
<text x="327.5" y="46.0" font-size="12" fill="#131722" textLength="6.0" lengthAdjust="spacingAndGlyphs">L</text>
<text x="334.0" y="46.0" font-size="12" fill="#26a69a" textLength="47.5" lengthAdjust="spacingAndGlyphs">22681.22</text>
<text x="389.5" y="46.0" font-size="12" fill="#131722" textLength="7.0" lengthAdjust="spacingAndGlyphs">C</text>
<text x="396.5" y="46.0" font-size="12" fill="#26a69a" textLength="47.5" lengthAdjust="spacingAndGlyphs">23296.09</text>
<text x="452.0" y="46.0" font-size="12" fill="#26a69a" textLength="91.0" lengthAdjust="spacingAndGlyphs">+308.30 (+1.34%)</text>
<text x="18.2" y="62.9" font-size="12" fill="#131722" textLength="90.0" lengthAdjust="spacingAndGlyphs">MA (50, close, 0)</text>
<text x="115.7" y="62.9" font-size="12" fill="#f44336" textLength="48.0" lengthAdjust="spacingAndGlyphs">21344.67</text>
<text x="18.2" y="79.9" font-size="12" fill="#131722" textLength="96.5" lengthAdjust="spacingAndGlyphs">EMA (20, close, 0)</text>
<text x="122.0" y="79.9" font-size="12" fill="#0c3299" textLength="47.6" lengthAdjust="spacingAndGlyphs">22632.63</text>
<text x="18.4" y="598.0" font-size="12" fill="#131722" textLength="75.4" lengthAdjust="spacingAndGlyphs">RSI (14, close)</text>
<text x="102.4" y="598.0" font-size="12" fill="#7e57c2" textLength="28.1" lengthAdjust="spacingAndGlyphs">56.33</text>
<text x="1278.3" y="44.6" font-size="12" fill="#131722" textLength="27.6" lengthAdjust="spacingAndGlyphs">USDT</text>
<text x="1278.5" y="70.8" font-size="12" fill="#131722" textLength="47.9" lengthAdjust="spacingAndGlyphs">55000.00</text>
<text x="1278.5" y="103.8" font-size="12" fill="#131722" textLength="47.9" lengthAdjust="spacingAndGlyphs">52500.00</text>
<text x="1278.5" y="135.8" font-size="12" fill="#131722" textLength="47.9" lengthAdjust="spacingAndGlyphs">50000.00</text>
<text x="1278.5" y="168.8" font-size="12" fill="#131722" textLength="47.9" lengthAdjust="spacingAndGlyphs">47500.00</text>
<text x="1278.5" y="200.8" font-size="12" fill="#131722" textLength="47.9" lengthAdjust="spacingAndGlyphs">45000.00</text>
<text x="1278.5" y="232.8" font-size="12" fill="#131722" textLength="47.9" lengthAdjust="spacingAndGlyphs">42500.00</text>
<text x="1278.5" y="264.8" font-size="12" fill="#131722" textLength="47.9" lengthAdjust="spacingAndGlyphs">40000.00</text>
<text x="1278.5" y="297.8" font-size="12" fill="#131722" textLength="47.9" lengthAdjust="spacingAndGlyphs">37500.00</text>
<text x="1278.5" y="329.8" font-size="12" fill="#131722" textLength="47.9" lengthAdjust="spacingAndGlyphs">35000.00</text>
<text x="1278.5" y="361.8" font-size="12" fill="#131722" textLength="47.9" lengthAdjust="spacingAndGlyphs">32500.00</text>
<text x="1278.5" y="394.8" font-size="12" fill="#131722" textLength="47.9" lengthAdjust="spacingAndGlyphs">30000.00</text>
<text x="1278.5" y="426.8" font-size="12" fill="#131722" textLength="47.9" lengthAdjust="spacingAndGlyphs">27500.00</text>
<text x="1278.5" y="555.8" font-size="12" fill="#131722" textLength="47.9" lengthAdjust="spacingAndGlyphs">17500.00</text>
<text x="1278.3" y="594.9" font-size="12" fill="#131722" textLength="29.1" lengthAdjust="spacingAndGlyphs">70.00</text>
<text x="1278.3" y="633.9" font-size="12" fill="#131722" textLength="29.1" lengthAdjust="spacingAndGlyphs">60.00</text>
<text x="1278.3" y="671.9" font-size="12" fill="#131722" textLength="29.1" lengthAdjust="spacingAndGlyphs">50.00</text>
<text x="1278.3" y="710.9" font-size="12" fill="#131722" textLength="29.1" lengthAdjust="spacingAndGlyphs">40.00</text>
<text x="1278.3" y="749.9" font-size="12" fill="#131722" textLength="29.1" lengthAdjust="spacingAndGlyphs">30.00</text>
<text x="1278.3" y="787.9" font-size="12" fill="#131722" textLength="29.1" lengthAdjust="spacingAndGlyphs">20.00</text>
<text x="67.8" y="811.6" font-size="12" fill="#131722" textLength="27.3" lengthAdjust="spacingAndGlyphs" text-anchor="middle" stroke="#131722" stroke-width="0.55">2022</text>
<text x="229.0" y="811.6" font-size="12" fill="#131722" textLength="18.8" lengthAdjust="spacingAndGlyphs" text-anchor="middle">Feb</text>
<text x="374.0" y="811.6" font-size="12" fill="#131722" textLength="19.8" lengthAdjust="spacingAndGlyphs" text-anchor="middle">Mar</text>
<text x="535.0" y="811.6" font-size="12" fill="#131722" textLength="18.1" lengthAdjust="spacingAndGlyphs" text-anchor="middle">Apr</text>
<text x="690.0" y="811.6" font-size="12" fill="#131722" textLength="20.8" lengthAdjust="spacingAndGlyphs" text-anchor="middle">May</text>
<text x="851.0" y="811.6" font-size="12" fill="#131722" textLength="18.7" lengthAdjust="spacingAndGlyphs" text-anchor="middle">Jun</text>
<text x="1007.0" y="811.6" font-size="12" fill="#131722" textLength="14.4" lengthAdjust="spacingAndGlyphs" text-anchor="middle">Jul</text>
<text x="1168.0" y="811.6" font-size="12" fill="#131722" textLength="18.9" lengthAdjust="spacingAndGlyphs" text-anchor="middle">Aug</text>
<path d="M1268.0 449.7H1331.0Q1333.0 449.7 1333.0 451.7V464.5Q1333.0 466.5 1331.0 466.5H1268.0Q1268.0 466.5 1268.0 466.5V449.7Q1268.0 449.7 1268.0 449.7Z" fill="#0000ff"/>
<text x="1278.3" y="462.6" font-size="12" fill="#fff" textLength="48.2" lengthAdjust="spacingAndGlyphs" stroke="#fff" stroke-width="0.35">24668.00</text>
<path d="M1209.0 468.4H1267.0Q1267.0 468.4 1267.0 468.4V485.0Q1267.0 485.0 1267.0 485.0H1209.0Q1207.0 485.0 1207.0 483.0V470.4Q1207.0 468.4 1209.0 468.4Z" fill="#26a69a"/>
<text x="1212.6" y="480.8" font-size="12" fill="#fff" textLength="47.8" lengthAdjust="spacingAndGlyphs" stroke="#fff" stroke-width="0.35">BTCUSDT</text>
<path d="M1268.0 468.4H1331.0Q1333.0 468.4 1333.0 470.4V496.5Q1333.0 498.5 1331.0 498.5H1268.0Q1268.0 498.5 1268.0 498.5V468.4Q1268.0 468.4 1268.0 468.4Z" fill="#26a69a"/>
<text x="1278.3" y="480.8" font-size="12" fill="#fff" textLength="48.2" lengthAdjust="spacingAndGlyphs" stroke="#fff" stroke-width="0.35">23296.09</text>
<text x="1278.3" y="494.8" font-size="12" fill="#cfeae7" textLength="46.2" lengthAdjust="spacingAndGlyphs" stroke="#cfeae7" stroke-width="0.35">08:56:47</text>
<path d="M1235.0 499.0H1267.0Q1267.0 499.0 1267.0 499.0V515.8Q1267.0 515.8 1267.0 515.8H1235.0Q1233.0 515.8 1233.0 513.8V501.0Q1233.0 499.0 1235.0 499.0Z" fill="#0c3299"/>
<text x="1239.1" y="511.8" font-size="12" fill="#fff" textLength="22.0" lengthAdjust="spacingAndGlyphs" stroke="#fff" stroke-width="0.35">EMA</text>
<path d="M1268.0 499.0H1331.0Q1333.0 499.0 1333.0 501.0V513.8Q1333.0 515.8 1331.0 515.8H1268.0Q1268.0 515.8 1268.0 515.8V499.0Q1268.0 499.0 1268.0 499.0Z" fill="#0c3299"/>
<text x="1278.3" y="511.8" font-size="12" fill="#fff" textLength="48.2" lengthAdjust="spacingAndGlyphs" stroke="#fff" stroke-width="0.35">22632.63</text>
<path d="M1242.0 516.3H1267.0Q1267.0 516.3 1267.0 516.3V533.0Q1267.0 533.0 1267.0 533.0H1242.0Q1240.0 533.0 1240.0 531.0V518.3Q1240.0 516.3 1242.0 516.3Z" fill="#f44336"/>
<text x="1245.4" y="529.0" font-size="12" fill="#fff" textLength="15.7" lengthAdjust="spacingAndGlyphs" stroke="#fff" stroke-width="0.35">MA</text>
<path d="M1268.0 516.3H1331.0Q1333.0 516.3 1333.0 518.3V531.0Q1333.0 533.0 1331.0 533.0H1268.0Q1268.0 533.0 1268.0 533.0V516.3Q1268.0 516.3 1268.0 516.3Z" fill="#f44336"/>
<text x="1278.3" y="529.0" font-size="12" fill="#fff" textLength="48.2" lengthAdjust="spacingAndGlyphs" stroke="#fff" stroke-width="0.35">21344.67</text>
<path d="M1241.0 635.2H1266.6Q1266.6 635.2 1266.6 635.2V651.8Q1266.6 651.8 1266.6 651.8H1241.0Q1239.0 651.8 1239.0 649.8V637.2Q1239.0 635.2 1241.0 635.2Z" fill="#7e57c2"/>
<text x="1245.0" y="648.0" font-size="12" fill="#fff" textLength="16.5" lengthAdjust="spacingAndGlyphs" stroke="#fff" stroke-width="0.35">RSI</text>
<path d="M1268.0 635.2H1312.0Q1314.0 635.2 1314.0 637.2V649.8Q1314.0 651.8 1312.0 651.8H1268.0Q1268.0 651.8 1268.0 651.8V635.2Q1268.0 635.2 1268.0 635.2Z" fill="#7e57c2"/>
<text x="1278.3" y="648.0" font-size="12" fill="#fff" textLength="29.2" lengthAdjust="spacingAndGlyphs" stroke="#fff" stroke-width="0.35">56.33</text>
<g fill="#131722"><path d="M9.9 834.2H18V844H13.75V838.4H9.9Z"/><circle cx="21.4" cy="836" r="1.85"/><path d="M24.9 834.2H29.4L26.05 844H21.1Z"/></g>
<text x="33.4" y="844.0" font-size="13" fill="#1e222d" textLength="70.0" lengthAdjust="spacingAndGlyphs">TradingView</text>
</svg></body></html>
